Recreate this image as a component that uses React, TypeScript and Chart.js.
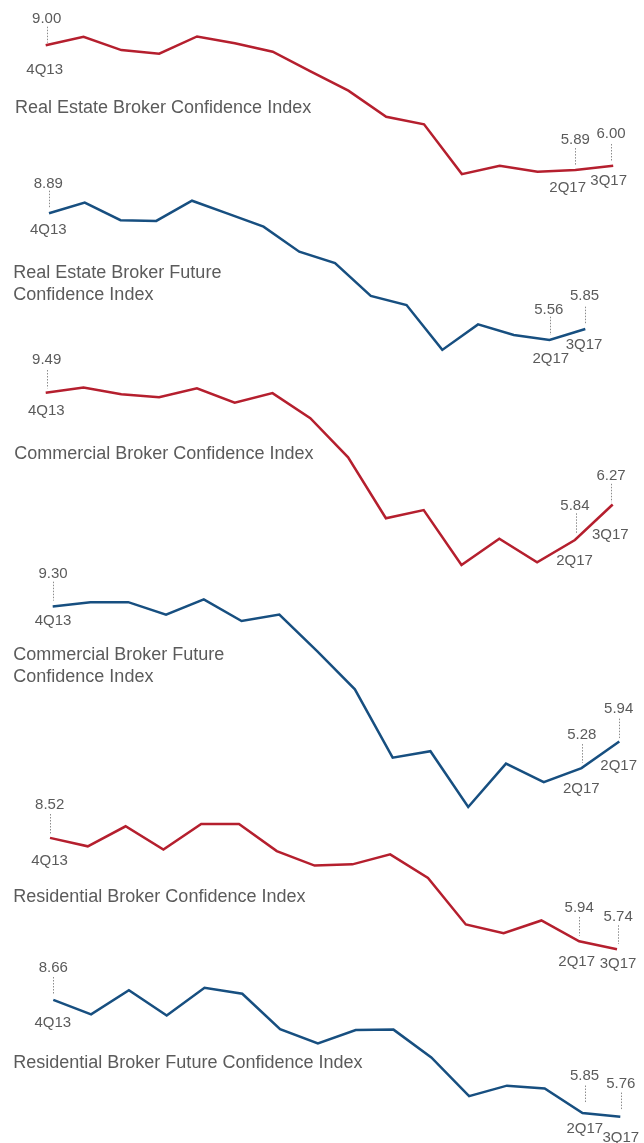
import { useEffect, useRef } from 'react';
import { Chart, registerables } from 'chart.js';

Chart.register(...registerables);

// ---------- data ----------
const quarters = ['4Q13', '1Q14', '2Q14', '3Q14', '4Q14', '1Q15', '2Q15', '3Q15', '4Q15', '1Q16', '2Q16', '3Q16', '4Q16', '1Q17', '2Q17', '3Q17'];

const realEstateConfidence = [9.0, 9.21, 8.88, 8.79, 9.22, 9.05, 8.84, 8.35, 7.87, 7.22, 7.03, 5.79, 6.0, 5.85, 5.89, 6.0];
const realEstateFuture = [8.89, 9.17, 8.71, 8.69, 9.22, 8.88, 8.54, 7.88, 7.58, 6.72, 6.48, 5.3, 5.97, 5.69, 5.56, 5.85];
const commercialConfidence = [9.49, 9.62, 9.45, 9.38, 9.6, 9.24, 9.48, 8.86, 7.89, 6.38, 6.58, 5.22, 5.87, 5.29, 5.84, 6.72];
const commercialFuture = [9.3, 9.41, 9.41, 9.1, 9.48, 8.94, 9.1, 8.19, 7.24, 5.54, 5.7, 4.31, 5.39, 4.93, 5.28, 5.94];
const residentialConfidence = [8.52, 8.31, 8.81, 8.23, 8.87, 8.87, 8.19, 7.83, 7.86, 8.11, 7.52, 6.36, 6.14, 6.46, 5.94, 5.74];
const residentialFuture = [8.66, 8.3, 8.9, 8.27, 8.96, 8.81, 7.93, 7.58, 7.91, 7.92, 7.23, 6.27, 6.53, 6.46, 5.85, 5.76];

// callout texts (4Q13, 2Q17, 3Q17 points)
const realEstateConfidenceValueLabels = ['9.00', '5.89', '6.00'];
const realEstateFutureValueLabels = ['8.89', '5.56', '5.85'];
const commercialConfidenceValueLabels = ['9.49', '5.84', '6.27'];
const commercialFutureValueLabels = ['9.30', '5.28', '5.94'];
const residentialConfidenceValueLabels = ['8.52', '5.94', '5.74'];
const residentialFutureValueLabels = ['8.66', '5.85', '5.76'];

const defaultQuarterLabels = ['4Q13', '2Q17', '3Q17'];
const commercialFutureQuarterLabels = ['4Q13', '2Q17', '2Q17'];

const realEstateConfidenceTitle = ['Real Estate Broker Confidence Index'];
const realEstateFutureTitle = ['Real Estate Broker Future', 'Confidence Index'];
const commercialConfidenceTitle = ['Commercial Broker Confidence Index'];
const commercialFutureTitle = ['Commercial Broker Future', 'Confidence Index'];
const residentialConfidenceTitle = ['Residential Broker Confidence Index'];
const residentialFutureTitle = ['Residential Broker Future Confidence Index'];

const calloutIndices = [0, 14, 15];

// ---------- styles / layout ----------
const W = 644;
const H = 1143;
const RED = '#b51f2e';
const BLUE = '#174f80';
const TEXT = '#5b5b5b';
const DOT = '#8c8c8c';
const FONT = '"Liberation Sans", Arial, Helvetica, sans-serif';

type Callout = { vdx: number; vdy: number; l1: number; l2: number; ldx: number; qdx: number; qdy: number };

const panels = [
  {
    data: realEstateConfidence, values: realEstateConfidenceValueLabels, qs: defaultQuarterLabels, title: realEstateConfidenceTitle,
    color: RED, xStart: 45.7, xEnd: 613.2, yRef: 45.3, ppu: 40.13, titleX: 15, titleY: 112.7, titleLH: 21.7,
    callouts: [
      { vdx: 1, vdy: -22, l1: -18.6, l2: -2.6, ldx: 1, qdx: -1, qdy: 28.7 },
      { vdx: 0, vdy: -26.3, l1: -22, l2: -4.6, ldx: 0, qdx: -7.7, qdy: 21.4 },
      { vdx: -2.2, vdy: -27.7, l1: -21.7, l2: -4, ldx: -1.9, qdx: -4.5, qdy: 19.3 },
    ] as Callout[],
  },
  {
    data: realEstateFuture, values: realEstateFutureValueLabels, qs: defaultQuarterLabels, title: realEstateFutureTitle,
    color: BLUE, xStart: 49, xEnd: 585.3, yRef: 213.3, ppu: 38.05, titleX: 13.3, titleY: 278.3, titleLH: 21.7,
    callouts: [
      { vdx: -0.7, vdy: -25.6, l1: -22.6, l2: -5, ldx: 0, qdx: -0.7, qdy: 20.7 },
      { vdx: -0.7, vdy: -25.7, l1: -23.3, l2: -5, ldx: 0, qdx: 1.3, qdy: 23.3 },
      { vdx: -0.8, vdy: -29, l1: -22.3, l2: -5.6, ldx: -0.6, qdx: -1.3, qdy: 20 },
    ] as Callout[],
  },
  {
    data: commercialConfidence, values: commercialConfidenceValueLabels, qs: defaultQuarterLabels, title: commercialConfidenceTitle,
    color: RED, xStart: 45.7, xEnd: 612.7, yRef: 392.7, ppu: 40.36, titleX: 14.3, titleY: 459.3, titleLH: 21.7,
    callouts: [
      { vdx: 1, vdy: -28.4, l1: -22.7, l2: -4.4, ldx: 1, qdx: 0.6, qdy: 22.3 },
      { vdx: 0, vdy: -30, l1: -26.7, l2: -6.7, ldx: 0.7, qdx: -0.3, qdy: 25 },
      { vdx: -1.7, vdy: -24.7, l1: -20.7, l2: -2.3, ldx: -1.4, qdx: -2.4, qdy: 34.3 },
    ] as Callout[],
  },
  {
    data: commercialFuture, values: commercialFutureValueLabels, qs: commercialFutureQuarterLabels, title: commercialFutureTitle,
    color: BLUE, xStart: 52.7, xEnd: 619.3, yRef: 606.6, ppu: 40.17, titleX: 13.3, titleY: 659.5, titleLH: 22.2,
    callouts: [
      { vdx: 0.3, vdy: -28.9, l1: -24.9, l2: -6, ldx: 0.6, qdx: 0.3, qdy: 18.7 },
      { vdx: 0.2, vdy: -29.2, l1: -24, l2: -5.3, ldx: 0, qdx: -0.3, qdy: 24.7 },
      { vdx: -0.6, vdy: -28.1, l1: -22.9, l2: -3.5, ldx: -0.6, qdx: -0.6, qdy: 28.3 },
    ] as Callout[],
  },
  {
    data: residentialConfidence, values: residentialConfidenceValueLabels, qs: defaultQuarterLabels, title: residentialConfidenceTitle,
    color: RED, xStart: 50, xEnd: 617, yRef: 837.9, ppu: 40.07, titleX: 13.3, titleY: 901.5, titleLH: 21.7,
    callouts: [
      { vdx: -0.3, vdy: -29.2, l1: -23.9, l2: -4.5, ldx: 0, qdx: -0.5, qdy: 27.2 },
      { vdx: 0, vdy: -29.6, l1: -24.3, l2: -5.6, ldx: 0, qdx: -2.5, qdy: 24.4 },
      { vdx: 1.2, vdy: -28.2, l1: -24, l2: -5.3, ldx: 1, qdx: 1, qdy: 18.3 },
    ] as Callout[],
  },
  {
    data: residentialFuture, values: residentialFutureValueLabels, qs: defaultQuarterLabels, title: residentialFutureTitle,
    color: BLUE, xStart: 53.3, xEnd: 620.3, yRef: 999.8, ppu: 40.3, titleX: 13.3, titleY: 1068, titleLH: 21.7,
    callouts: [
      { vdx: 0, vdy: -28.2, l1: -22.8, l2: -4.8, ldx: 0, qdx: -0.5, qdy: 26.9 },
      { vdx: 2, vdy: -32.8, l1: -27.5, l2: -9.9, ldx: 2.3, qdx: 2.3, qdy: 20.1 },
      { vdx: 0.5, vdy: -28.3, l1: -24.1, l2: -6.4, ldx: 0.7, qdx: 0.5, qdy: 25.3 },
    ] as Callout[],
  },
];

const annotations = {
  id: 'panelAnnotations',
  afterDatasetsDraw(chart: any) {
    const ctx = chart.ctx as CanvasRenderingContext2D;
    panels.forEach((p, k) => {
      const xs = chart.scales['x' + k];
      const ys = chart.scales['y' + k];
      ctx.save();
      ctx.fillStyle = TEXT;
      ctx.textBaseline = 'alphabetic';
      ctx.textAlign = 'left';
      ctx.font = `18px ${FONT}`;
      p.title.forEach((line, j) => ctx.fillText(line, p.titleX, p.titleY + j * p.titleLH));

      calloutIndices.forEach((idx, c) => {
        const co = p.callouts[c];
        const x = xs.getPixelForValue(idx);
        const y = ys.getPixelForValue(p.data[idx]);
        ctx.font = `15px ${FONT}`;
        ctx.textAlign = 'center';
        ctx.fillStyle = TEXT;
        ctx.fillText(p.values[c], x + co.vdx, y + co.vdy);
        ctx.fillText(p.qs[c], x + co.qdx, y + co.qdy);
        ctx.strokeStyle = DOT;
        ctx.lineWidth = 1;
        ctx.setLineDash([1.5, 1.5]);
        const lx = Math.round(x + co.ldx) + 0.5;
        ctx.beginPath();
        ctx.moveTo(lx, y + co.l1);
        ctx.lineTo(lx, y + co.l2);
        ctx.stroke();
        ctx.setLineDash([]);
      });
      ctx.restore();
    });
  },
};

export default function App() {
  const ref = useRef<HTMLCanvasElement | null>(null);

  useEffect(() => {
    if (!ref.current) return;
    const scales: any = {};
    panels.forEach((p, k) => {
      const step = (p.xEnd - p.xStart) / (quarters.length - 1);
      scales['x' + k] = {
        type: 'linear',
        display: false,
        min: -p.xStart / step,
        max: (W - p.xStart) / step,
        bounds: 'data',
      };
      const yMax = p.data[0] + p.yRef / p.ppu;
      scales['y' + k] = {
        type: 'linear',
        display: false,
        min: yMax - H / p.ppu,
        max: yMax,
        bounds: 'data',
      };
    });

    const chart = new Chart(ref.current, {
      type: 'line',
      data: {
        datasets: panels.map((p, k) => ({
          label: p.title.join(' '),
          data: p.data.map((v, i) => ({ x: i, y: v })),
          xAxisID: 'x' + k,
          yAxisID: 'y' + k,
          borderColor: p.color,
          backgroundColor: p.color,
          borderWidth: 2.5,
          pointRadius: 0,
          tension: 0,
          fill: false,
          clip: false as any,
        })),
      },
      options: {
        animation: false,
        responsive: false,
        maintainAspectRatio: false,
        events: [],
        layout: { padding: 0 },
        scales,
        plugins: {
          legend: { display: false },
          tooltip: { enabled: false },
          title: { display: false },
        },
      },
      plugins: [annotations],
    });
    return () => chart.destroy();
  }, []);

  return (
    <div style={{ position: 'absolute', left: 0, top: 0, width: W, height: H, background: '#fff' }}>
      <canvas ref={ref} width={W} height={H} style={{ display: 'block', width: W, height: H }} />
    </div>
  );
}
